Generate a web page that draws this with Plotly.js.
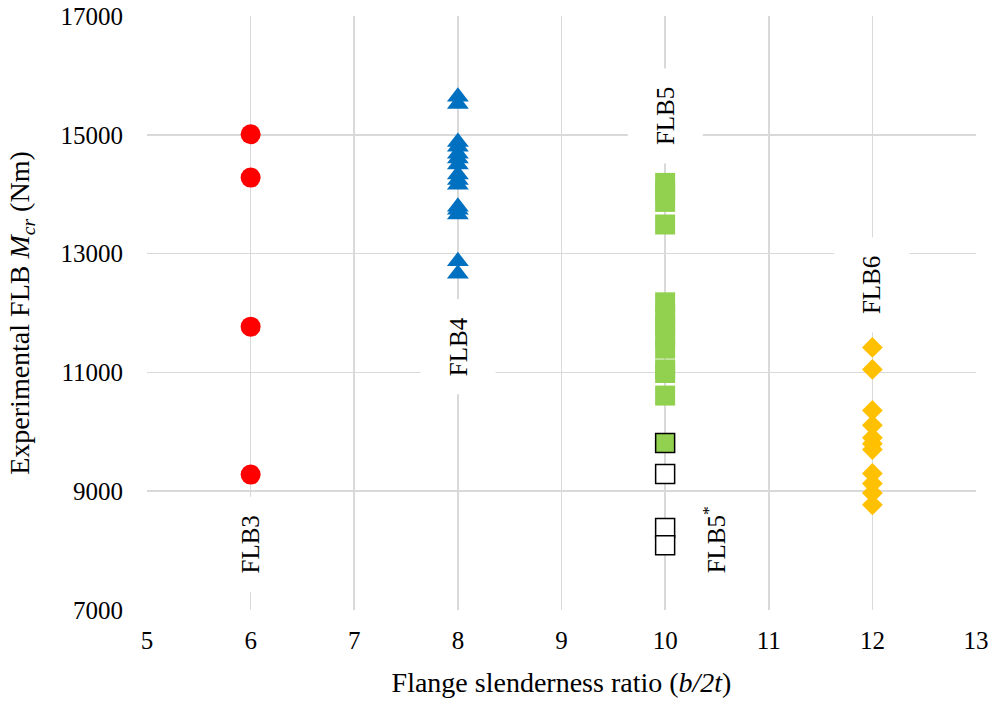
<!DOCTYPE html>
<html>
<head>
<meta charset="utf-8">
<script src="https://cdn.plot.ly/plotly-3.0.1.min.js"></script>
<style>html,body{margin:0;padding:0;background:#fff;}#chart{width:995px;height:707px;}</style>
</head>
<body>
<div id="chart"></div>
<script>
// Data
const flb3X = [6, 6, 6, 6];
const flb3Y = [15010, 14280, 11770, 9280];

const flb4X = [8, 8, 8, 8, 8, 8, 8, 8, 8, 8, 8, 8, 8, 8, 8];
const flb4Y = [15640, 15520, 14880, 14800, 14680, 14600, 14500, 14330, 14240, 14160, 13790, 13740, 13660, 12870, 12660];

const flb5X = [10, 10, 10, 10, 10, 10, 10, 10, 10, 10, 10, 10];
const flb5Y = [14190, 14050, 13870, 13490, 12180, 11960, 11800, 11600, 11400, 11050, 10990, 10610];

const flb5MixX = [10];
const flb5MixY = [9810];

const flb5StarX = [10, 10, 10];
const flb5StarY = [9290, 8380, 8090];

const flb6X = [12, 12, 12, 12, 12, 12, 12, 12, 12, 12, 12];
const flb6Y = [11420, 11050, 10360, 10110, 9900, 9800, 9700, 9300, 9130, 8970, 8770];

const groupLabels = ["FLB3", "FLB4", "FLB5", "FLB6", "FLB5<sup>*</sup>"];
const labelX = [6, 8, 10, 12, 10.47];
const labelY = [8100, 11430, 15320, 12480, 8180];

const xTicks = [5, 6, 7, 8, 9, 10, 11, 12, 13];
const yTicks = [7000, 9000, 11000, 13000, 15000, 17000];

const serif = "'Liberation Serif', 'Times New Roman', serif";

const traces = [
  {x: flb3X, y: flb3Y, type: 'scatter', mode: 'markers', name: 'FLB3',
   marker: {symbol: 'circle', size: 20, color: '#ff0000'}},
  {x: flb4X, y: flb4Y, type: 'scatter', mode: 'markers', name: 'FLB4',
   marker: {symbol: 'triangle-up', size: 19, color: '#0070c0'}},
  {x: flb5X, y: flb5Y, type: 'scatter', mode: 'markers', name: 'FLB5',
   marker: {symbol: 'square', size: 20, color: '#92d050'}},
  {x: flb5MixX, y: flb5MixY, type: 'scatter', mode: 'markers', name: 'FLB5 / FLB5*',
   marker: {symbol: 'square', size: 19, color: '#92d050', line: {color: '#000', width: 1.5}}},
  {x: flb5StarX, y: flb5StarY, type: 'scatter', mode: 'markers', name: 'FLB5*',
   marker: {symbol: 'square', size: 19, color: '#ffffff', line: {color: '#000', width: 1.5}}},
  {x: flb6X, y: flb6Y, type: 'scatter', mode: 'markers', name: 'FLB6',
   marker: {symbol: 'diamond', size: 16, color: '#ffc000'}}
];

const annotations = groupLabels.map((t, i) => ({
  x: labelX[i], y: labelY[i], xref: 'x', yref: 'y', text: t, showarrow: false,
  textangle: -90, font: {family: serif, size: 25, color: '#000'},
  bgcolor: '#ffffff', width: 92, height: 72, align: 'center', valign: 'middle'
}));

const layout = {
  width: 995, height: 707,
  margin: {l: 147, r: 19, t: 16, b: 97, pad: 0},
  paper_bgcolor: '#ffffff', plot_bgcolor: '#ffffff',
  showlegend: false,
  font: {family: serif, color: '#000'},
  xaxis: {
    range: [5, 13], tickvals: xTicks, ticktext: xTicks.map(String),
    showgrid: true, gridcolor: '#d9d9d9', gridwidth: 1.7,
    zeroline: false, showline: false,
    ticks: 'outside', ticklen: 8, tickcolor: 'rgba(0,0,0,0)',
    tickfont: {family: serif, size: 25, color: '#000'},
    title: {text: 'Flange slenderness ratio (<i>b/2t</i>)', font: {family: serif, size: 28, color: '#000'}, standoff: 19}
  },
  yaxis: {
    range: [7000, 17000], tickvals: yTicks, ticktext: yTicks.map(String),
    showgrid: true, gridcolor: '#d9d9d9', gridwidth: 1.7,
    zeroline: false, showline: false,
    ticks: 'outside', ticklen: 18, tickcolor: 'rgba(0,0,0,0)',
    tickfont: {family: serif, size: 25, color: '#000'},
    title: {text: 'Experimental FLB <i>M</i><sub><i>cr</i></sub> (Nm)', font: {family: serif, size: 28, color: '#000'}, standoff: 22}
  },
  annotations: annotations
};

Plotly.newPlot('chart', traces, layout, {staticPlot: true, displayModeBar: false});
</script>
</body>
</html>
